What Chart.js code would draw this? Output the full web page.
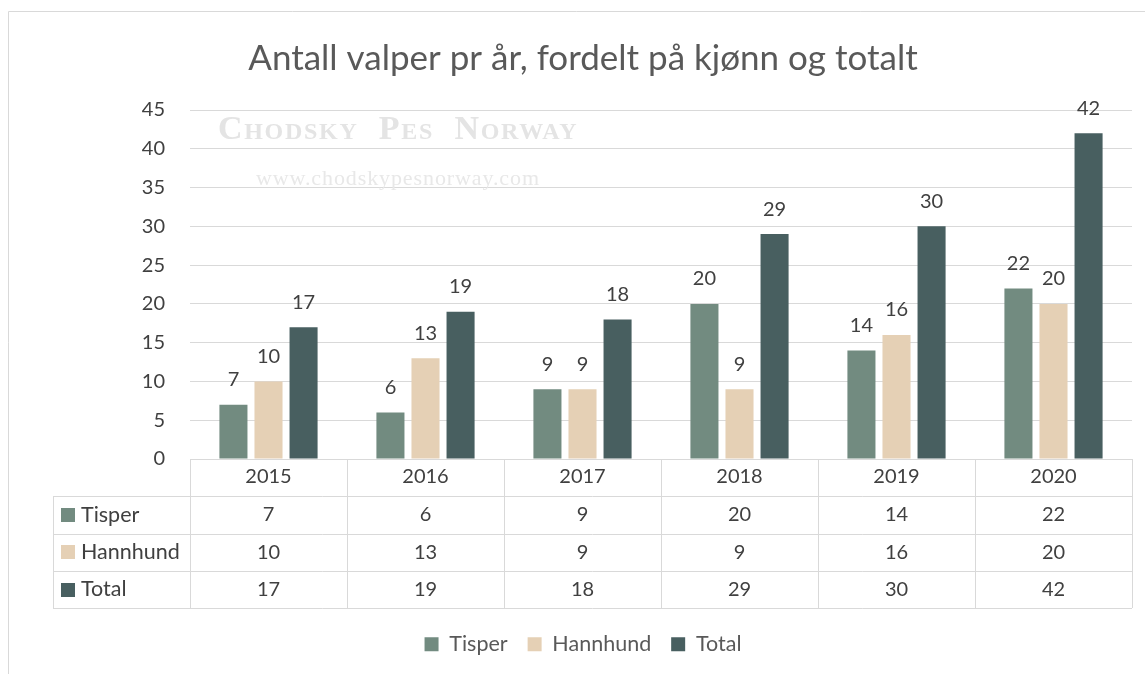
<!DOCTYPE html>
<html>
<head>
<meta charset="utf-8">
<script src="https://cdn.jsdelivr.net/npm/chart.js@4"></script>
<style>
  html, body { margin: 0; padding: 0; background: #fff; }
  #wrap { width: 1145px; height: 674px; position: relative; }
</style>
</head>
<body>
<div id="wrap"><canvas id="chartValper"></canvas></div>
<script>
const years = ['2015', '2016', '2017', '2018', '2019', '2020'];
const tisper = [7, 6, 9, 20, 14, 22];
const hannhund = [10, 13, 9, 9, 16, 20];
const total = [17, 19, 18, 29, 30, 42];
const seriesNames = ['Tisper', 'Hannhund', 'Total'];
const yTicks = [0, 5, 10, 15, 20, 25, 30, 35, 40, 45];

const colors = ['#728b80', '#e5d0b5', '#485f60'];
const font = 'Lato, "Open Sans", sans-serif';
const lineGrey = '#d9d9d9';

// values over bars
const valueLabels = {
    id: 'valueLabels',
    afterDatasetsDraw(chart) {
        const ctx = chart.ctx;
        ctx.save();
        ctx.font = '20px ' + font;
        ctx.fillStyle = '#404040';
        ctx.textAlign = 'center';
        ctx.textBaseline = 'alphabetic';
        chart.data.datasets.forEach((ds, i) => {
            chart.getDatasetMeta(i).data.forEach((bar, j) => {
                ctx.fillText(ds.data[j], bar.x, bar.y - 18.5);
            });
        });
        ctx.restore();
    }
};

// background watermark
const watermark = {
    id: 'watermark',
    beforeDatasetsDraw(chart) {
        const ctx = chart.ctx;
        ctx.save();
        ctx.fillStyle = '#e4e4e4';
        ctx.textBaseline = 'middle';
        ctx.font = 'bold 34px "Liberation Serif", "DejaVu Serif", serif';
        if ('fontVariantCaps' in ctx) ctx.fontVariantCaps = 'small-caps';
        ctx.letterSpacing = '1.7px';
        ctx.fillText('Chodsky  Pes  Norway', 218, 130);
        ctx.fontVariantCaps = 'normal';
        ctx.fillStyle = '#e8e8e8';
        ctx.font = '22px "Liberation Serif", "DejaVu Serif", serif';
        ctx.letterSpacing = '0.9px';
        ctx.fillText('www.chodskypesnorway.com', 256, 179);
        ctx.restore();
    }
};

// data table under the plot + outer frame
const dataTable = {
    id: 'dataTable',
    afterDraw(chart) {
        const ctx = chart.ctx;
        const x = chart.scales.x;
        const area = chart.chartArea;
        const rowH = 37.3;
        const top = area.bottom;
        const leftEdge = 53;
        const catW = (x.right - x.left) / years.length;
        ctx.save();
        ctx.strokeStyle = lineGrey;
        ctx.lineWidth = 1;

        // frame
        ctx.beginPath();
        ctx.moveTo(8.5, 674);
        ctx.lineTo(8.5, 11.5);
        ctx.lineTo(1145, 11.5);
        ctx.stroke();

        ctx.beginPath();
        // header top line
        ctx.moveTo(x.left, top + 0.5);
        ctx.lineTo(x.right, top + 0.5);
        // row lines
        for (let r = 1; r <= 4; r++) {
            const yy = Math.round(top + r * rowH) + 0.5;
            ctx.moveTo(leftEdge, yy);
            ctx.lineTo(x.right, yy);
        }
        // column lines
        for (let c = 0; c <= years.length; c++) {
            const xx = Math.round(x.left + c * catW) + 0.5;
            ctx.moveTo(xx, top);
            ctx.lineTo(xx, Math.round(top + 4 * rowH));
        }
        ctx.moveTo(leftEdge + 0.5, Math.round(top + rowH));
        ctx.lineTo(leftEdge + 0.5, Math.round(top + 4 * rowH));
        ctx.stroke();

        const rows = [tisper, hannhund, total];
        ctx.textBaseline = 'middle';
        rows.forEach((vals, r) => {
            const cy = top + (r + 1.5) * rowH;
            ctx.fillStyle = colors[r];
            ctx.fillRect(61, Math.round(cy - 7), 14, 14);
            ctx.fillStyle = '#404040';
            ctx.textAlign = 'left';
            ctx.font = '21.5px ' + font;
            ctx.fillText(seriesNames[r], 81, cy);
            ctx.textAlign = 'center';
            ctx.font = '20px ' + font;
            vals.forEach((v, j) => {
                ctx.fillText(v, x.getPixelForValue(j), cy);
            });
        });
        ctx.restore();
    }
};

const ctxValper = document.getElementById('chartValper').getContext('2d');

const chartValper = new Chart(ctxValper, {
    type: 'bar',
    data: {
        labels: years,
        datasets: [
            { label: seriesNames[0], data: tisper, backgroundColor: colors[0] },
            { label: seriesNames[1], data: hannhund, backgroundColor: colors[1] },
            { label: seriesNames[2], data: total, backgroundColor: colors[2] }
        ]
    },
    options: {
        responsive: true,
        maintainAspectRatio: false,
        animation: false,
        datasets: {
            bar: { categoryPercentage: 0.67, barPercentage: 0.8 }
        },
        layout: { padding: { left: 34, right: 13, top: 0, bottom: 9 } },
        plugins: {
            title: {
                display: true,
                text: 'Antall valper pr år, fordelt på kjønn og totalt',
                color: '#595959',
                font: { family: font, size: 35, weight: 'normal' },
                padding: { top: 38, bottom: 30 }
            },
            legend: {
                position: 'bottom',
                labels: {
                    color: '#595959',
                    font: { family: font, size: 21.5 },
                    boxWidth: 14,
                    boxHeight: 14,
                    padding: 20
                }
            },
            tooltip: { enabled: false }
        },
        scales: {
            x: {
                grid: { display: false },
                border: { display: false },
                ticks: {
                    color: '#404040',
                    font: { family: font, size: 20 },
                    padding: -2,
                    maxRotation: 0
                },
                afterFit(scale) {
                    scale.height = 674 - 9 - 459 - scale.chart.legend.height;
                }
            },
            y: {
                min: 0,
                max: 45,
                afterBuildTicks(scale) {
                    scale.ticks = yTicks.map(v => ({ value: v }));
                },
                grid: { color: lineGrey, drawTicks: false },
                border: { display: false },
                ticks: {
                    color: '#404040',
                    font: { family: font, size: 20 },
                    padding: 25
                },
                afterFit(scale) {
                    scale.width = 156;
                }
            }
        }
    },
    plugins: [watermark, valueLabels, dataTable]
});
</script>
</body>
</html>
